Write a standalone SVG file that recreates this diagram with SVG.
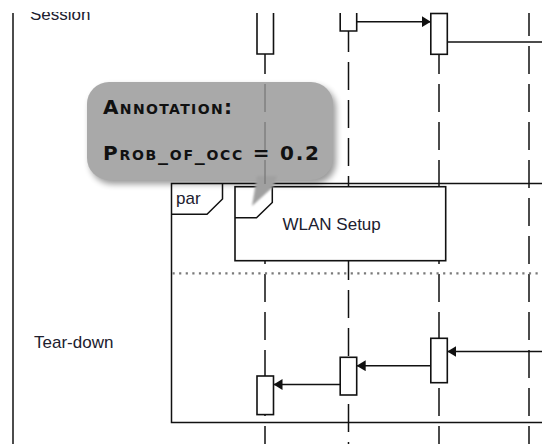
<svg xmlns="http://www.w3.org/2000/svg" width="542" height="444" viewBox="0 0 542 444">
<style>
.ll{stroke:#111;stroke-width:1.5;fill:none;stroke-dasharray:28 10}
.ln{stroke:#111;stroke-width:1.5;fill:none}
.box{stroke:#111;stroke-width:1.6;fill:#fff}
.msg{stroke:#111;stroke-width:1.4;fill:none}
.lbl{font-family:"Liberation Sans",Arial,sans-serif;font-size:17px;fill:#20202e}
.ann{font-family:"DejaVu Sans",Verdana,sans-serif;font-weight:bold;font-size:20px;font-variant:small-caps;fill:#111}
</style>
<defs>
<marker id="ah" viewBox="0 0 10 10" refX="10" refY="5" markerWidth="9" markerHeight="11" markerUnits="userSpaceOnUse" orient="auto" preserveAspectRatio="none"><path d="M0,0 L10,5 L0,10 z" fill="#111"/></marker>
<clipPath id="top"><rect x="0" y="12" width="542" height="432"/></clipPath>
<clipPath id="bub"><rect x="0" y="82" width="542" height="102"/></clipPath>
<filter id="sh" x="-20%" y="-20%" width="140%" height="150%"><feGaussianBlur stdDeviation="3"/></filter>
<filter id="soft" x="-30%" y="-30%" width="160%" height="160%"><feGaussianBlur stdDeviation="1"/></filter>
</defs>
<rect width="542" height="444" fill="#fff"/>
<line class="ln" x1="13" y1="13" x2="13" y2="444" stroke="#333"/>
<text class="lbl" x="30" y="19.5" clip-path="url(#top)">Session</text>
<text class="lbl" x="34" y="348">Tear-down</text>

<g id="lifelines">
<line class="ll" x1="265" y1="13" x2="265" y2="444" stroke-dashoffset="5"/>
<line class="ll" x1="348.5" y1="13" x2="348.5" y2="444" stroke-dashoffset="27"/>
<line class="ll" x1="439" y1="13" x2="439" y2="444" stroke-dashoffset="5"/>
<line class="ll" x1="529" y1="13" x2="529" y2="444" stroke-dashoffset="5"/>
</g>

<g id="par-frame">
<path class="ln" d="M542,183.5 H171.5 V422.5 H542"/>
<path class="ln" d="M222.5,183.5 V199 L207,214.3 H171.5"/>
<text class="lbl" x="176" y="203.5">par</text>
<line x1="172.5" y1="273.3" x2="542" y2="273.3" stroke="#7a7a7a" stroke-width="2.2" stroke-dasharray="2.2 4.4"/>
</g>

<g id="wlan-setup">
<rect class="box" x="235" y="186.7" width="210.7" height="74"/>
<path class="ln" d="M272.3,186.7 V202.5 L256.5,217.7 H235"/>
<text class="lbl" x="282.5" y="230">WLAN Setup</text>
</g>

<g id="activations">
<path class="box" d="M257,13 V54 H273.5 V13"/>
<path class="box" d="M340.2,13 V31 H356.7 V13"/>
<rect class="box" x="430.8" y="13.5" width="16.5" height="40.8"/>
<rect class="box" x="430.8" y="338.3" width="16.5" height="44.4"/>
<rect class="box" x="340.2" y="357.3" width="16.5" height="37.7"/>
<rect class="box" x="257" y="376" width="16.5" height="38.6"/>
</g>

<g id="connectors">
<line class="msg" x1="356.7" y1="21.7" x2="430.8" y2="21.7" marker-end="url(#ah)"/>
<line class="msg" x1="447.3" y1="42" x2="542" y2="42"/>
<line class="msg" x1="542" y1="351.5" x2="447.3" y2="351.5" marker-end="url(#ah)"/>
<line class="msg" x1="430.8" y1="365.7" x2="356.7" y2="365.7" marker-end="url(#ah)"/>
<line class="msg" x1="340.2" y1="384.5" x2="273.5" y2="384.5" marker-end="url(#ah)"/>
</g>

<g id="annotation">
<rect x="90" y="86" width="246" height="98" rx="22" fill="#000" opacity="0.4" filter="url(#sh)"/>
<rect x="87" y="82" width="246" height="98" rx="22" fill="#a9a9a9"/>
<polygon points="257,176 277,176 273,187 252,206" fill="#a0a0a0" filter="url(#soft)"/>
<line x1="265" y1="13" x2="265" y2="184" stroke="#767676" stroke-width="1.2" stroke-dasharray="28 10" stroke-dashoffset="5" clip-path="url(#bub)"/>
<text class="ann" x="103" y="113.5" textLength="129">Annotation:</text>
<text class="ann" x="103" y="160" textLength="216">Prob_of_occ = 0.2</text>
</g>
</svg>
